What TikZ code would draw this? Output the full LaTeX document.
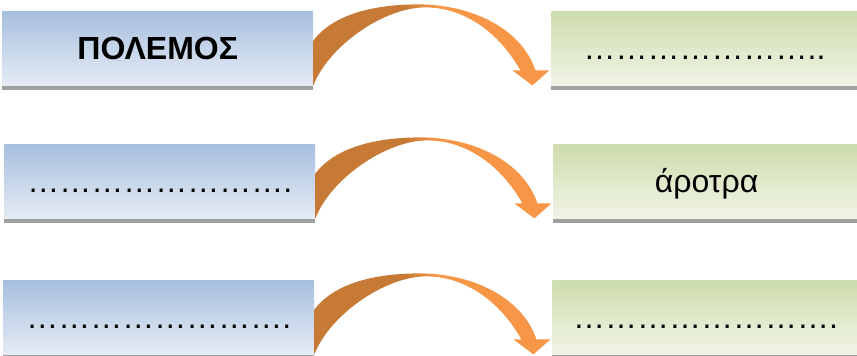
\documentclass[tikz,border=0pt]{standalone}
\usepackage{fontspec}
\setmainfont{Liberation Sans}
\usetikzlibrary{positioning}
\definecolor{bluetop}{HTML}{A7BFDE}
\definecolor{bluebottom}{HTML}{E6ECF5}
\definecolor{greentop}{HTML}{CDDDAC}
\definecolor{greenbottom}{HTML}{F1F4E8}
\definecolor{barcolor}{HTML}{A0A0A0}
\definecolor{arrowdark}{HTML}{C77936}
\definecolor{arrowlight}{HTML}{F79646}
\pgfdeclarehorizontalshading{bentshade}{100bp}{color(0bp)=(arrowdark); color(44bp)=(arrowdark); color(51bp)=(arrowlight); color(100bp)=(arrowlight)}
\newcommand{\blank}[1]{\foreach \i in {1,...,#1}{…}}
\newcommand{\bentarrow}[1]{%
	\begin{scope}[shift={(#1.south east)}]
		\shade[shading=bentshade] (0,1) -- (0,46)
		.. controls (20,72) and (60,82) .. (105,82)
		.. controls (158,82) and (208,58) .. (222,16)
		-- (236,16) -- (219,1) -- (199,16) -- (207,16)
		.. controls (185,55) and (150,79) .. (112,79)
		.. controls (70,79) and (15,40) .. (0,1)
		-- cycle;
	\end{scope}}

\begin{document}
\begin{tikzpicture}[%
			x=1pt,y=1pt,
			font=\fontsize{32}{38}\selectfont,
			node distance=58pt and 238pt,
			box/.style={%
				minimum height=75pt,
				inner sep=0pt,
				text height=29pt,
				text depth=6.8pt
			},
			leftbox/.style={%
				box,
				minimum width=311pt,
				anchor=north west,
				top color=bluetop,
				bottom color=bluebottom
			},
			rightbox/.style={%
				box,
				minimum width=306pt,
				top color=greentop,
				bottom color=greenbottom
			}
			]
			\useasboundingbox (0,0) rectangle (857,-356);
			\node[leftbox] (1) at (2,-11) {\textbf{ΠΟΛΕΜΟΣ}};
			\node[rightbox] (2) [right= of 1] {\blank{7}..};
			\node[leftbox] (3) at (4,-144) {\blank{8}.};
			\node[rightbox] (4) [right= of 3] {άροτρα};
			\node[leftbox] (5) at (3,-280) {\blank{8}.};
			\node[rightbox] (6) [right= of 5] {\blank{8}.};
			
			\foreach \n in {1,...,6}
				\fill[barcolor] (\n.south west) rectangle ([yshift=-4pt]\n.south east);
			\foreach \n in {1,3,5}
				\bentarrow{\n};
			\end{tikzpicture}
\end{document}
